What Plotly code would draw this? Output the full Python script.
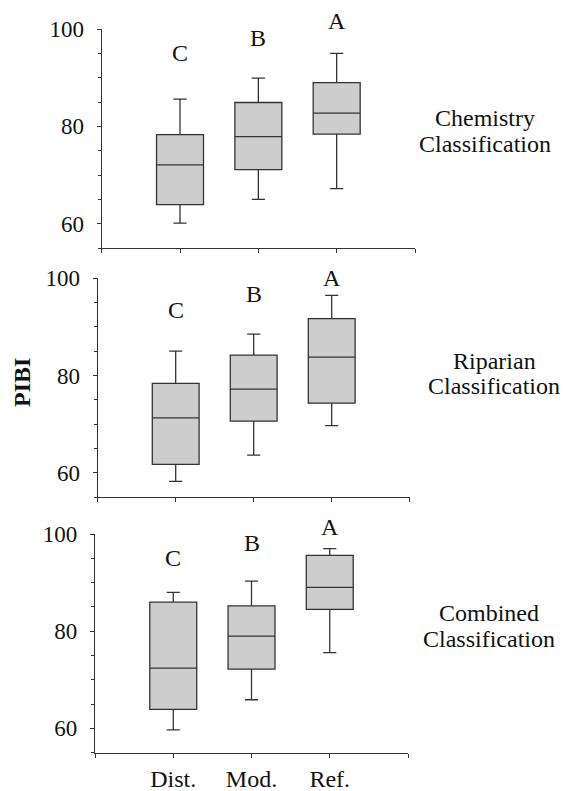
import plotly.graph_objects as go

W, H = 569, 791
OFF = 8  # the page body has an 8px margin; shift the layout to compensate

categories = ["Dist.", "Mod.", "Ref."]
positions = [1, 2, 3]
letters = ["C", "B", "A"]
panel_titles = [["Chemistry", "Classification"],
                ["Riparian", "Classification"],
                ["Combined", "Classification"]]

# Chemistry classification
chem_upper = [85.6, 89.9, 95.0]
chem_q3 = [78.3, 84.9, 89.0]
chem_med = [72.1, 77.9, 82.7]
chem_q1 = [63.9, 71.1, 78.4]
chem_lower = [60.1, 65.0, 67.2]
chem_letter_y = [95.1, 98.1, 101.6]

# Riparian classification
rip_upper = [85.0, 88.5, 96.5]
rip_q3 = [78.4, 84.2, 91.7]
rip_med = [71.3, 77.2, 83.8]
rip_q1 = [61.7, 70.6, 74.3]
rip_lower = [58.2, 63.6, 69.7]
rip_letter_y = [93.4, 96.7, 100.1]

# Combined classification
comb_upper = [88.0, 90.3, 97.0]
comb_q3 = [86.0, 85.2, 95.6]
comb_med = [72.4, 79.0, 89.0]
comb_q1 = [63.9, 72.2, 84.5]
comb_lower = [59.7, 65.9, 75.6]
comb_letter_y = [95.0, 98.2, 101.5]

y_ticks = [60, 80, 100]
Y_RANGE = [55, 100]

panels = [
    (chem_lower, chem_q1, chem_med, chem_q3, chem_upper, chem_letter_y),
    (rip_lower, rip_q1, rip_med, rip_q3, rip_upper, rip_letter_y),
    (comb_lower, comb_q1, comb_med, comb_q3, comb_upper, comb_letter_y),
]

# layout geometry (screen pixels)
x_dom_px = [(101.7, 415.0), (97.7, 409.7), (95.0, 408.0)]
y_dom_px = [(29.0, 248.0), (278.3, 497.0), (534.0, 752.7)]
# (x centre, y centre of the two-line block)
title_px = [(485, 131.0), (494, 373.5), (489, 625.5)]
TITLE_GAP = 26.0

FONT = "Liberation Serif"
LINE = "#333333"


def px_x(x):
    return (x - OFF) / W


def px_y(y):
    return 1 - (y - OFF) / H


fig = go.Figure()
annotations = []
layout = {}

for i, (lo, q1, med, q3, up, ly) in enumerate(panels):
    sfx = "" if i == 0 else str(i + 1)
    fig.add_trace(go.Box(
        x=positions, q1=q1, median=med, q3=q3,
        lowerfence=lo, upperfence=up,
        width=0.6, whiskerwidth=0.28,
        fillcolor="#cdcdcd", line=dict(color=LINE, width=1.3),
        boxpoints=False, showlegend=False, hoverinfo="skip",
        xaxis="x" + sfx, yaxis="y" + sfx,
    ))
    x0, x1 = x_dom_px[i]
    yt, yb = y_dom_px[i]
    ydom = [px_y(yb), px_y(yt)]
    layout["xaxis" + sfx] = dict(
        domain=[px_x(x0), px_x(x1)], range=[0, 4], anchor="y" + sfx,
        tickvals=[0] + positions + [4],
        ticktext=[""] + (categories if i == 2 else ["", "", ""]) + [""],
        ticks="outside", ticklen=4, tickcolor=LINE, tickwidth=1.2,
        showline=True, linecolor=LINE, linewidth=1.3, automargin=False,
        showgrid=False, zeroline=False, fixedrange=True,
        tickfont=dict(family=FONT, size=24, color="#111"),
    )
    layout["yaxis" + sfx] = dict(
        domain=ydom, range=Y_RANGE, anchor="x" + sfx,
        tickvals=y_ticks, ticks="outside", ticklen=4, tickcolor=LINE, tickwidth=1.2,
        minor=dict(dtick=5, tick0=0, ticks="outside", ticklen=3, tickcolor=LINE, tickwidth=1),
        showline=True, linecolor=LINE, linewidth=1.3, automargin=False,
        showgrid=False, zeroline=False, fixedrange=True,
        ticklabelstandoff=8,
        tickfont=dict(family=FONT, size=23, color="#111"),
    )
    # significance letters (paper coords so they may sit above the axis top)
    for p, letter, yy in zip(positions, letters, ly):
        yp = ydom[0] + (yy - Y_RANGE[0]) / (Y_RANGE[1] - Y_RANGE[0]) * (ydom[1] - ydom[0])
        annotations.append(dict(
            x=p, y=yp, xref="x" + sfx, yref="paper", text=letter,
            showarrow=False, xanchor="center", yanchor="middle",
            font=dict(family=FONT, size=24, color="#111"),
        ))
    cx, cy = title_px[i]
    for k, txt in enumerate(panel_titles[i]):
        ty = cy + (k - 0.5) * TITLE_GAP
        annotations.append(dict(
            x=px_x(cx), y=px_y(ty), xref="paper", yref="paper", text=txt,
            showarrow=False, xanchor="center", yanchor="middle",
            font=dict(family=FONT, size=24, color="#111"),
        ))

annotations.append(dict(
    x=px_x(22), y=px_y(383), xref="paper", yref="paper", text="<b>PIBI</b>",
    textangle=-90, showarrow=False, xanchor="center", yanchor="middle",
    font=dict(family=FONT, size=24, color="#111"),
))

fig.update_layout(
    width=W, height=H, margin=dict(l=0, r=0, t=0, b=0, autoexpand=False),
    paper_bgcolor="white", plot_bgcolor="white",
    annotations=annotations, **layout,
)
fig.write_html("out.html")
